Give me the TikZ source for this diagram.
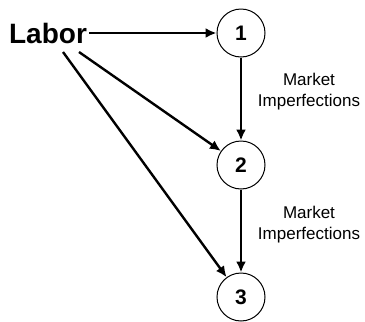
\documentclass[tikz,border=0pt]{standalone}
\usepackage{fontspec}
\setmainfont{Liberation Sans}
\usepackage{tikz}
\usetikzlibrary{arrows.meta}
\tikzset{%
  stage/.style={%
    circle,%
    draw,%
    line width=1pt,%
    minimum size=48pt,%
    inner sep=0pt,%
    font=\fontsize{21}{21}\selectfont\bfseries},
  link/.style={%
    line width=2.4pt,%
    -{Latex[length=11pt,width=10pt]}},
  note/.style={%
    align=center,%
    font=\fontsize{17}{21}\selectfont}
}

\begin{document}
\begin{tikzpicture}[x=1pt,y=-1pt]
        \useasboundingbox (0,0) rectangle (365,322);
        \node [font=\fontsize{28}{28}\selectfont\bfseries,inner sep=2pt] (lab) at (48,33) {Labor};
        \node [stage] (n1) at (241,33) {1};
        \node [stage] (n2) at (241,165) {2};
        \node [stage] (n3) at (241,297) {3};
        \coordinate (s2) at (79,52);
        \coordinate (s3) at (63,52);
        \draw [link] (lab.east) -- (n1);
        \draw [link] (s2) -- (n2);
        \draw [link] (s3) -- (n3);
        \draw [link] (n1) -- (n2);
        \draw [link] (n2) -- (n3);
        \node [note] (m1) at (309,92) {Market\\Imperfections};
        \node [note] (m2) at (309,225) {Market\\Imperfections};
      \end{tikzpicture}
\end{document}
